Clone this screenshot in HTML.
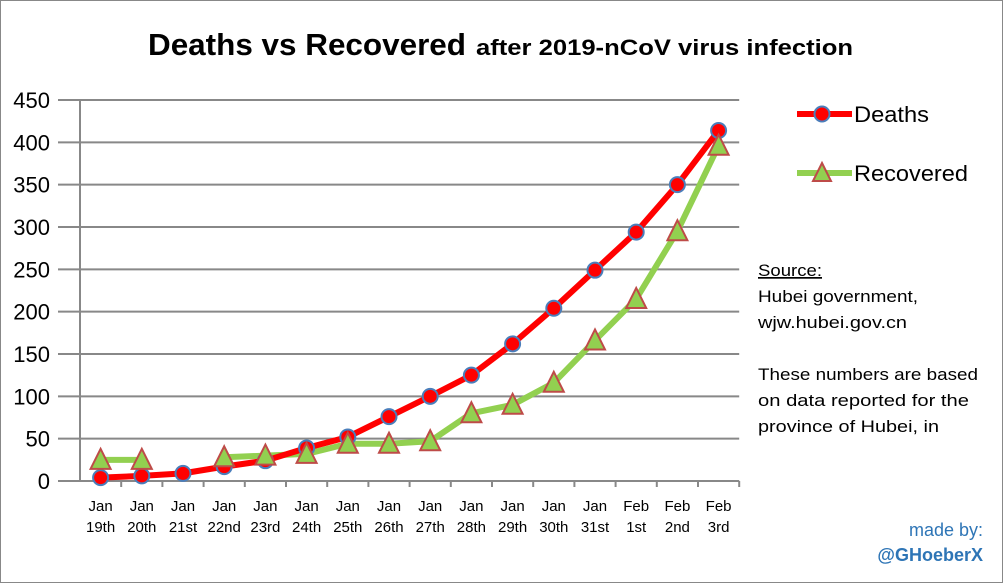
<!DOCTYPE html>
<html><head><meta charset="utf-8"><style>
body{margin:0;background:#fff}
svg{display:block;font-family:"Liberation Sans",Calibri,sans-serif}
</style></head><body>
<svg width="1003" height="583">
<rect x="0.5" y="0.5" width="1002" height="582" fill="#fff" stroke="#888"/>
<text x="148" y="55" font-size="31" font-weight="bold" fill="#000"><tspan textLength="318" lengthAdjust="spacingAndGlyphs">Deaths vs Recovered</tspan><tspan x="476" font-size="22" textLength="377" lengthAdjust="spacingAndGlyphs">after 2019-nCoV virus infection</tspan></text>
<g id="grid"></g>
<g id="ylab"></g>
<g id="xlab"></g>
<g id="series"></g>
<g>
<g>
<line x1="797" y1="114" x2="852" y2="114" stroke="#f00" stroke-width="6"/>
<circle cx="822" cy="114" r="7.5" fill="#f00" stroke="#4a7ebb" stroke-width="2"/>
<text x="854" y="122" font-size="22" textLength="75" lengthAdjust="spacingAndGlyphs">Deaths</text></g>
<g>
<line x1="797" y1="173" x2="852" y2="173" stroke="#92d050" stroke-width="6"/>
<polygon points="822,163 831,181 813,181" fill="#92d050" stroke="#be4b48" stroke-width="2"/>
<text x="854" y="181" font-size="22" textLength="114" lengthAdjust="spacingAndGlyphs">Recovered</text></g>
</g>
<g font-size="17" fill="#000">
<text x="758" y="276" text-decoration="underline" textLength="64" lengthAdjust="spacingAndGlyphs">Source:</text>
<text x="758" y="302" textLength="160" lengthAdjust="spacingAndGlyphs">Hubei government,</text>
<text x="758" y="328" textLength="149" lengthAdjust="spacingAndGlyphs">wjw.hubei.gov.cn</text>
<text x="758" y="380" textLength="220" lengthAdjust="spacingAndGlyphs">These numbers are based</text>
<text x="758" y="406" textLength="211" lengthAdjust="spacingAndGlyphs">on data reported for the</text>
<text x="758" y="432" textLength="181" lengthAdjust="spacingAndGlyphs">province of Hubei, in</text>
</g>
<text x="983" y="536" font-size="18" fill="#2e75b6" text-anchor="end">made by:</text>
<text x="983" y="561" font-size="18" font-weight="bold" fill="#2e75b6" text-anchor="end">@GHoeberX</text>
</svg>
<script>
const categories=[["Jan","19th"],["Jan","20th"],["Jan","21st"],["Jan","22nd"],["Jan","23rd"],["Jan","24th"],["Jan","25th"],["Jan","26th"],["Jan","27th"],["Jan","28th"],["Jan","29th"],["Jan","30th"],["Jan","31st"],["Feb","1st"],["Feb","2nd"],["Feb","3rd"]];
const deaths=[4,6,9,17,24,39,52,76,100,125,162,204,249,294,350,414];
const recovered=[25,25,null,28,30,32,44,44,47,80,90,116,166,215,295,396];
const yTicks=[0,50,100,150,200,250,300,350,400,450];
const NS="http://www.w3.org/2000/svg";
const x0=80,bw=41.2,y0=481,ppu=381/450;
const X=i=>x0+bw*(i+0.5), Y=v=>y0-v*ppu;
function mk(t,a,p){const e=document.createElementNS(NS,t);for(const k in a)e.setAttribute(k,a[k]);p.appendChild(e);return e;}
const g=document.getElementById('grid'),yl=document.getElementById('ylab'),xl=document.getElementById('xlab'),s=document.getElementById('series');
yTicks.forEach(v=>{
 const l=mk('line',{x1:58,x2:x0+bw*16,y1:Y(v),y2:Y(v),stroke:'#888','stroke-width':2},g);
 
 
 const t=mk('text',{x:50,y:Y(v)+8,'font-size':22,'text-anchor':'end'},yl);t.textContent=v;
 
 
});
mk('line',{x1:x0,x2:x0,y1:Y(450),y2:y0,stroke:'#888','stroke-width':2},g);
categories.forEach((c,i)=>{
 const tk=mk('line',{x1:x0+bw*(i+1),x2:x0+bw*(i+1),y1:y0,y2:y0+6,stroke:'#888','stroke-width':2},g);
 
 
 const t=mk('text',{x:X(i),y:511,'font-size':15,'text-anchor':'middle'},xl);
 
 
 mk('tspan',{x:X(i),dy:0},t).textContent=c[0];
 mk('tspan',{x:X(i),dy:21},t).textContent=c[1];
});
function path(arr){let d='',pen=false;arr.forEach((v,i)=>{if(v==null){pen=false;return;}d+=(pen?'L':'M')+X(i)+','+Y(v);pen=true;});return d;}
const pr=mk('path',{d:path(recovered),fill:'none',stroke:'#92d050','stroke-width':6,'stroke-linejoin':'round'},s);


const pd=mk('path',{d:path(deaths),fill:'none',stroke:'#f00','stroke-width':6,'stroke-linejoin':'round'},s);


deaths.forEach((v,i)=>{
 const c=mk('circle',{cx:X(i),cy:Y(v),r:7.5,fill:'#f00',stroke:'#4a7ebb','stroke-width':2},s);
 
 
});
recovered.forEach((v,i)=>{
 if(v==null)return;
 const x=X(i),y=Y(v);
 const p=mk('polygon',{points:`${x},${y-11} ${x+10},${y+9} ${x-10},${y+9}`,fill:'#92d050',stroke:'#be4b48','stroke-width':2},s);
 
 
});
</script>
</body></html>
